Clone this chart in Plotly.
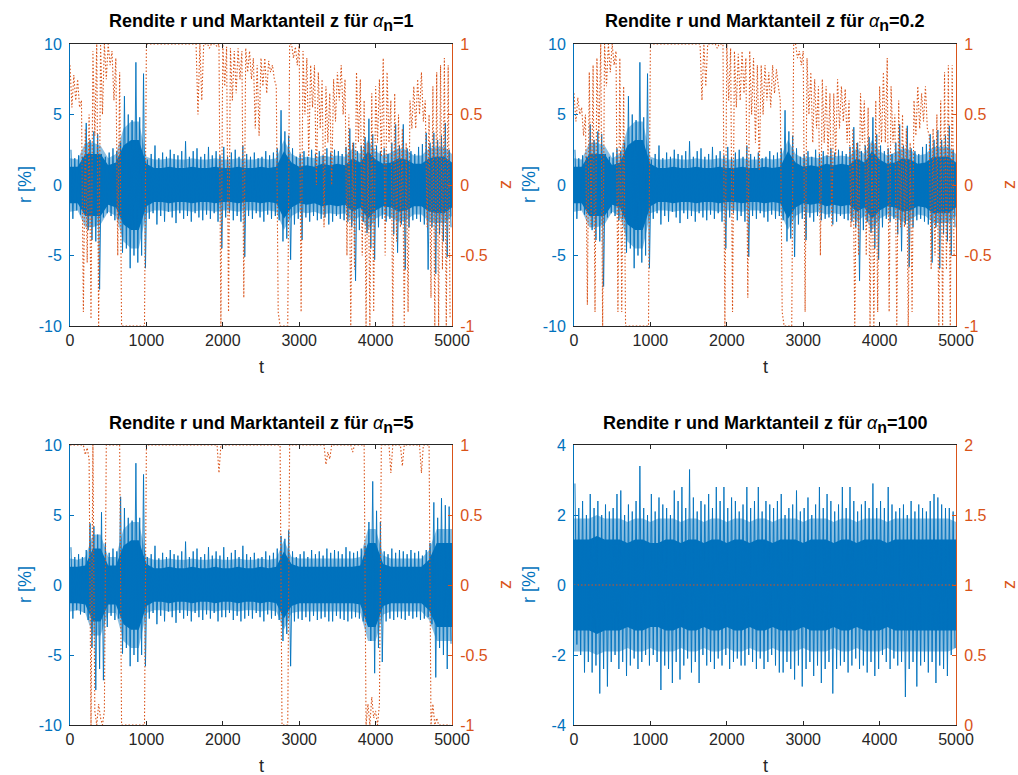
import plotly.graph_objects as go

W, H = 1018, 775
BLUE = "#0072BD"
BLUE_LIGHT = "rgba(0,114,189,0.45)"
ORANGE = "#D95319"
DARK = "#262626"
FONT = "Liberation Sans, Arial, sans-serif"

WIN = 50
CORE_STEP = 100   # t-step of the dense band half-width readings
Z_STEP = 25       # t-step of the z readings

t_ticks = [0, 1000, 2000, 3000, 4000, 5000]
t_labels = ["0", "1000", "2000", "3000", "4000", "5000"]
r_ticks_big = [-10, -5, 0, 5, 10]
r_ticks_small = [-4, -2, 0, 2, 4]
z_ticks_sym = [-1, -0.5, 0, 0.5, 1]
z_ticks_pos = [0, 0.5, 1, 1.5, 2]
titles = ["1", "0.2", "5", "100"]

# ---------------- returns r, alpha_n = 1 ----------------
r1_hi = [2.5, 1.9, 2.1, 2.0, 4.4, 3.2, 3.8, 3.6, 2.2, 2.0,
         2.3, 2.6, 2.4, 3.0, 6.3, 5.0, 4.6, 8.7, 4.8, 7.9,
         1.8, 2.2, 2.8, 1.9, 2.3, 2.0, 2.5, 2.2, 2.1, 2.4,
         3.1, 2.0, 2.4, 2.6, 2.0, 2.2, 2.7, 2.1, 2.4, 2.1,
         2.7, 2.0, 2.3, 2.5, 2.0, 2.8, 2.2, 2.0, 2.3, 1.9,
         2.0, 2.4, 2.1, 2.3, 2.6, 5.3, 3.8, 3.5, 2.6, 2.0,
         2.2, 2.4, 2.0, 2.5, 2.2, 2.4, 2.1, 2.6, 2.3, 2.5,
         2.4, 2.2, 2.7, 4.0, 3.0, 2.4, 2.8, 3.4, 4.7, 3.6,
         2.8, 2.4, 2.6, 2.2, 3.0, 4.3, 2.8, 4.3, 2.6, 2.4,
         2.2, 2.7, 2.9, 3.7, 3.0, 3.7, 3.2, 3.5, 4.4, 2.5]
r1_lo = [-2.4, -1.8, -2.1, -2.0, -3.2, -3.9, -4.0, -7.4, -2.3, -2.0,
         -2.2, -2.5, -2.4, -4.8, -4.5, -5.9, -5.0, -5.5, -5.0, -5.9,
         -2.4, -2.0, -2.8, -2.2, -2.6, -1.9, -2.3, -2.7, -2.0, -2.4,
         -2.2, -2.6, -2.0, -2.3, -2.5, -2.1, -2.4, -2.0, -2.6, -4.5,
         -2.3, -2.0, -2.5, -2.2, -2.6, -5.1, -2.2, -2.4, -2.0, -2.3,
         -2.6, -2.1, -2.4, -2.2, -2.5, -4.0, -3.8, -5.3, -2.8, -2.4,
         -3.9, -2.3, -2.6, -2.2, -2.5, -2.4, -2.3, -2.8, -2.6, -2.2,
         -2.4, -2.5, -2.6, -3.0, -6.8, -3.2, -2.6, -3.4, -4.5, -5.3,
         -3.0, -2.4, -2.6, -2.4, -3.5, -4.8, -2.8, -6.0, -3.0, -2.5,
         -2.4, -2.6, -2.8, -6.0, -3.0, -6.3, -3.5, -4.0, -5.1, -3.0]
r1_core = [1.3, 1.3, 2.2, 2.2, 2.2, 1.4, 1.6, 2.8, 3.2, 3.2,
           1.5, 1.2, 1.2, 1.3, 1.2, 1.2, 1.3, 1.2, 1.2, 1.3,
           1.2, 1.2, 1.3, 1.2, 1.2, 1.3, 1.2, 1.3, 2.4, 1.6,
           1.3, 1.4, 1.3, 1.5, 1.4, 1.5, 1.4, 1.9, 1.6, 2.4,
           1.8, 1.5, 1.6, 1.9, 1.8, 1.5, 1.5, 1.9, 2.0, 2.0, 1.6]
r1_fringe = [1.9, 1.8, 3.0, 3.0, 2.8, 1.9, 2.2, 4.0, 4.5, 4.5,
             2.0, 1.8, 1.8, 1.9, 1.8, 1.8, 1.9, 1.8, 1.8, 1.9,
             1.8, 1.8, 1.9, 1.8, 1.8, 1.9, 1.8, 1.9, 3.2, 2.2,
             1.9, 2.0, 1.9, 2.1, 2.0, 2.1, 2.0, 2.6, 2.2, 3.2,
             2.4, 2.1, 2.3, 2.6, 2.5, 2.1, 2.1, 2.6, 2.7, 2.7, 2.2]

# ---------------- returns r, alpha_n = 0.2 ----------------
r02_hi = [2.5, 1.9, 2.1, 2.0, 4.3, 3.2, 3.8, 3.6, 2.2, 2.0,
          2.3, 2.6, 2.4, 3.0, 6.3, 5.0, 4.6, 8.7, 4.8, 7.9,
          1.8, 2.2, 2.8, 1.9, 2.3, 2.0, 2.5, 2.2, 2.1, 2.4,
          3.1, 2.0, 2.4, 2.6, 2.0, 2.2, 2.7, 2.1, 2.4, 2.1,
          2.7, 2.0, 2.3, 2.5, 2.0, 2.8, 2.2, 2.0, 2.3, 1.9,
          2.0, 2.4, 2.1, 2.3, 2.6, 5.3, 3.8, 3.5, 2.6, 2.0,
          2.2, 2.4, 2.0, 2.5, 2.2, 2.4, 2.1, 2.6, 2.3, 2.5,
          2.4, 2.2, 2.7, 4.1, 3.0, 2.4, 2.8, 3.4, 4.8, 3.6,
          2.8, 2.4, 2.6, 2.2, 3.0, 4.3, 2.8, 4.2, 2.6, 2.4,
          2.2, 2.7, 2.9, 3.6, 3.2, 3.9, 3.2, 3.5, 4.2, 2.5]
r02_lo = [-2.4, -1.8, -2.1, -2.0, -3.2, -3.9, -4.0, -7.2, -2.3, -2.0,
          -2.2, -2.5, -2.4, -4.8, -4.5, -5.9, -5.0, -5.5, -5.0, -5.9,
          -2.4, -2.0, -2.8, -2.2, -2.6, -1.9, -2.3, -2.7, -2.0, -2.4,
          -2.2, -2.6, -2.0, -2.3, -2.5, -2.1, -2.4, -2.0, -2.6, -4.5,
          -2.3, -2.0, -2.5, -2.2, -2.6, -5.1, -2.2, -2.4, -2.0, -2.3,
          -2.6, -2.1, -2.4, -2.2, -2.5, -4.0, -3.8, -5.1, -2.8, -2.4,
          -3.9, -2.3, -2.6, -2.2, -2.5, -2.4, -2.3, -2.8, -2.6, -2.2,
          -2.4, -2.5, -2.6, -3.0, -6.8, -3.2, -2.6, -3.4, -4.5, -5.3,
          -3.0, -2.4, -2.6, -2.4, -3.5, -4.7, -2.8, -5.8, -3.0, -2.5,
          -2.4, -2.6, -2.8, -5.5, -3.0, -5.9, -3.5, -4.0, -5.0, -3.0]
r02_core = [1.3, 1.3, 2.2, 2.2, 2.2, 1.4, 1.6, 2.8, 3.2, 3.2,
            1.5, 1.2, 1.2, 1.3, 1.2, 1.2, 1.3, 1.2, 1.2, 1.3,
            1.2, 1.2, 1.3, 1.2, 1.2, 1.3, 1.2, 1.3, 2.4, 1.6,
            1.3, 1.4, 1.3, 1.5, 1.4, 1.5, 1.4, 1.9, 1.6, 2.4,
            1.8, 1.5, 1.6, 1.9, 1.8, 1.5, 1.6, 2.0, 2.0, 2.0, 1.6]
r02_fringe = [1.9, 1.8, 3.0, 3.0, 2.8, 1.9, 2.2, 4.0, 4.5, 4.5,
              2.0, 1.8, 1.8, 1.9, 1.8, 1.8, 1.9, 1.8, 1.8, 1.9,
              1.8, 1.8, 1.9, 1.8, 1.8, 1.9, 1.8, 1.9, 3.2, 2.2,
              1.9, 2.0, 1.9, 2.1, 2.0, 2.1, 2.0, 2.6, 2.2, 3.2,
              2.4, 2.1, 2.3, 2.6, 2.5, 2.1, 2.2, 2.7, 2.7, 2.7, 2.2]

# ---------------- returns r, alpha_n = 5 ----------------
r5_hi = [2.7, 2.0, 2.2, 2.0, 2.5, 4.4, 4.2, 3.6, 5.2, 3.0,
         2.3, 2.6, 2.4, 6.3, 5.5, 4.8, 4.6, 8.7, 4.8, 7.9,
         2.0, 2.2, 2.8, 1.9, 2.3, 2.0, 2.5, 2.2, 2.1, 2.4,
         3.1, 2.0, 2.4, 2.6, 2.0, 2.2, 2.7, 2.1, 2.4, 2.1,
         2.7, 2.0, 2.3, 2.5, 2.0, 2.8, 2.2, 2.0, 2.3, 1.9,
         2.0, 2.4, 2.1, 2.3, 2.6, 3.5, 3.3, 3.9, 2.4, 2.0,
         2.2, 2.4, 2.0, 2.5, 2.2, 2.4, 2.1, 2.6, 2.3, 2.5,
         2.4, 2.2, 2.7, 2.4, 2.3, 2.4, 2.6, 2.8, 4.5, 7.4,
         5.3, 4.5, 2.4, 2.2, 2.6, 2.3, 2.5, 2.4, 2.2, 2.5,
         2.3, 2.4, 2.1, 2.5, 3.0, 5.9, 4.8, 6.2, 5.7, 5.6]
r5_lo = [-2.4, -1.8, -2.1, -2.0, -2.5, -4.5, -7.5, -6.0, -6.8, -3.0,
         -2.2, -2.5, -2.4, -4.9, -4.5, -5.8, -5.0, -5.5, -5.0, -5.8,
         -2.4, -2.0, -2.8, -2.2, -2.6, -1.9, -2.3, -2.7, -2.0, -2.4,
         -2.2, -2.6, -2.0, -2.3, -2.5, -2.1, -2.4, -2.0, -2.6, -2.3,
         -2.3, -2.0, -2.5, -2.2, -2.6, -2.4, -2.2, -2.4, -2.0, -2.3,
         -2.6, -2.1, -2.4, -2.2, -2.5, -4.0, -3.5, -5.8, -2.6, -2.4,
         -2.5, -2.3, -2.6, -2.2, -2.5, -2.4, -2.3, -2.6, -2.6, -2.2,
         -2.4, -2.5, -2.6, -2.4, -2.3, -2.4, -2.6, -2.5, -4.0, -6.3,
         -4.5, -5.5, -2.6, -2.4, -2.5, -2.3, -2.4, -2.5, -2.2, -2.4,
         -2.3, -2.5, -2.4, -2.3, -2.8, -6.6, -4.5, -5.0, -6.0, -4.2]
r5_core = [1.3, 1.3, 1.4, 2.6, 2.6, 1.4, 1.4, 2.8, 3.2, 3.2,
           1.5, 1.2, 1.2, 1.3, 1.2, 1.2, 1.3, 1.2, 1.2, 1.3,
           1.2, 1.2, 1.3, 1.2, 1.2, 1.3, 1.2, 1.3, 2.4, 1.5,
           1.3, 1.3, 1.3, 1.3, 1.3, 1.3, 1.3, 1.3, 1.4, 3.0,
           3.0, 1.5, 1.3, 1.3, 1.3, 1.3, 1.3, 1.8, 3.0, 3.0, 3.0]
r5_fringe = [1.9, 1.8, 2.0, 3.6, 3.6, 2.0, 2.0, 4.0, 4.5, 4.5,
             2.0, 1.8, 1.8, 1.9, 1.8, 1.8, 1.9, 1.8, 1.8, 1.9,
             1.8, 1.8, 1.9, 1.8, 1.8, 1.9, 1.8, 1.9, 3.2, 2.0,
             1.9, 1.9, 1.9, 1.9, 1.9, 1.9, 1.9, 1.9, 2.0, 4.0,
             4.0, 2.1, 1.9, 1.9, 1.9, 1.9, 1.9, 2.5, 4.0, 4.0, 4.0]

# ---------------- returns r, alpha_n = 100 ----------------
r100_hi = [2.9, 2.2, 2.4, 2.0, 2.6, 2.2, 2.4, 2.0, 2.3, 2.1,
           2.2, 2.6, 2.7, 2.0, 2.3, 2.1, 2.4, 3.4, 2.2, 2.0,
           2.6, 2.1, 2.5, 2.3, 2.2, 2.0, 2.7, 2.4, 2.8, 2.2,
           3.3, 2.5, 2.1, 2.4, 2.3, 2.6, 2.2, 2.8, 2.4, 2.8,
           2.2, 2.5, 2.4, 2.1, 2.3, 2.8, 2.2, 2.4, 2.8, 2.1,
           2.4, 2.3, 2.2, 2.4, 2.6, 2.0, 2.2, 2.3, 2.7, 2.1,
           2.2, 2.5, 2.0, 2.3, 2.8, 2.2, 2.6, 2.4, 2.1, 2.3,
           2.8, 2.2, 2.8, 2.4, 2.1, 2.3, 2.4, 2.2, 2.9, 2.2,
           2.4, 2.2, 2.8, 2.3, 2.1, 2.2, 2.3, 2.0, 2.4, 2.1,
           2.3, 2.2, 2.1, 2.4, 2.6, 2.5, 2.3, 2.2, 2.2, 2.1]
r100_lo = [-1.7, -2.0, -2.5, -2.2, -2.5, -2.3, -3.1, -2.4, -2.9, -2.2,
           -2.0, -2.4, -2.2, -2.6, -2.3, -2.1, -2.4, -2.2, -2.0, -2.3,
           -2.0, -2.2, -3.0, -2.3, -2.4, -2.8, -2.2, -2.7, -2.3, -2.1,
           -2.5, -2.2, -2.8, -2.0, -2.3, -2.2, -2.4, -2.1, -2.3, -2.0,
           -2.4, -2.2, -2.1, -2.3, -2.3, -2.0, -2.2, -2.4, -2.1, -2.4,
           -2.2, -2.0, -2.3, -2.5, -2.5, -2.2, -2.4, -2.7, -2.3, -2.9,
           -2.4, -2.2, -2.6, -2.3, -2.8, -2.4, -2.2, -3.1, -2.4, -2.3,
           -2.2, -2.5, -2.3, -2.1, -2.4, -2.3, -2.5, -2.2, -2.6, -2.4,
           -2.0, -2.2, -2.4, -2.1, -2.3, -2.2, -3.2, -2.4, -2.2, -2.9,
           -2.3, -2.2, -2.5, -2.2, -2.8, -2.3, -2.4, -2.6, -2.0, -1.8]
r100_core = [1.3, 1.3, 1.3, 1.4, 1.3, 1.3, 1.3, 1.2, 1.3, 1.3,
             1.2, 1.2, 1.3, 1.3, 1.2, 1.3, 1.3, 1.2, 1.3, 1.3,
             1.2, 1.3, 1.3, 1.2, 1.3, 1.3, 1.2, 1.3, 1.3, 1.3,
             1.2, 1.3, 1.3, 1.3, 1.2, 1.3, 1.3, 1.2, 1.3, 1.3,
             1.3, 1.2, 1.3, 1.3, 1.3, 1.3, 1.3, 1.3, 1.3, 1.3, 1.3]
r100_fringe = [1.9, 1.9, 1.9, 2.0, 1.9, 1.9, 1.9, 1.8, 1.9, 1.9,
               1.8, 1.9, 1.9, 1.9, 1.8, 1.9, 1.9, 1.8, 1.9, 1.9,
               1.8, 1.9, 1.9, 1.8, 1.9, 1.9, 1.8, 1.9, 1.9, 1.9,
               1.8, 1.9, 1.9, 1.9, 1.8, 1.9, 1.9, 1.8, 1.9, 1.9,
               1.9, 1.8, 1.9, 1.9, 1.9, 1.9, 1.9, 1.9, 1.9, 1.9, 1.8]

# ---------------- market share z (values every 25 t) ----------------
z1 = [0.85, 0.55, 0.78, 0.6, 0.75, 0.55, 0.6, -0.9, 0.4, -0.55,
      0.5, -0.95, 0.95, 0.35, 1.0, -1.0, 1.0, 0.5, 1.0, 0.75,
      1.0, 0.85, 0.95, 0.6, 0.9, -0.5, 0.8, -1.0, -1.0, -1.0,
      -1.0, -1.0, -1.0, -1.0, -1.0, -1.0, -1.0, -1.0, -1.0, -1.0,
      1.0, 1.0, 1.0, 1.0, 1.0, 1.0, 1.0, 1.0, 1.0, 1.0,
      1.0, 1.0, 1.0, 1.0, 1.0, 1.0, 1.0, 1.0, 1.0, 1.0,
      1.0, 1.0, 1.0, 1.0, 1.0, 1.0, 1.0, 0.5, 1.0, 0.6,
      1.0, 1.0, 1.0, 0.97, 1.0, 1.0, 1.0, 0.98, 1.0, -1.0,
      1.0, 0.7, 0.98, -0.9, 0.97, 0.6, 0.95, 0.65, 0.97, 0.75,
      0.95, -0.8, 0.97, 0.8, 0.95, 0.75, 0.9, 0.4, 0.85, 0.35,
      0.9, 0.7, 0.9, 0.65, 0.88, 0.8, 0.85, 0.75, 0.7, -0.9,
      -1.0, -1.0, -1.0, -1.0, -1.0, 1.0, 1.0, 0.9, 0.98, 0.85,
      1.0, -0.9, 0.95, 0.5, 0.9, 0.2, 0.85, 0.55, 0.85, 0.0,
      0.8, 0.4, 0.75, -0.3, 0.7, 0.3, 0.65, 0.0, 0.75, 0.45,
      0.8, 0.6, 0.85, 0.5, 0.75, -0.5, 0.5, -1.0, 0.3, -0.6,
      0.8, 0.3, 0.75, -0.5, 0.6, -1.0, 0.3, -1.0, 0.65, -0.9,
      0.7, 0.3, 0.75, 0.2, 0.9, -0.5, 0.8, 0.3, 0.6, -1.0,
      0.65, -0.4, 0.5, -0.3, 0.4, -1.0, 0.3, -0.9, 0.6, 0.4,
      0.7, 0.4, 0.75, 0.5, 0.8, 0.45, 0.6, -0.3, 0.5, -0.8,
      0.7, -1.0, 0.8, -1.0, 0.85, -0.6, 0.9, -1.0, 0.85, -0.95]
z02 = [0.65, 0.45, 0.62, 0.5, 0.55, 0.35, 0.5, -0.85, 0.8, -0.3,
       0.85, -0.9, 0.9, 0.3, 1.0, -1.0, 1.0, 0.7, 1.0, 0.8,
       1.0, 0.85, 0.95, -0.9, 0.9, -0.9, 0.7, -1.0, -1.0, -1.0,
       -1.0, -1.0, -1.0, -1.0, -1.0, -1.0, -1.0, -1.0, -1.0, -1.0,
       1.0, 1.0, 1.0, 1.0, 1.0, 1.0, 1.0, 1.0, 1.0, 1.0,
       1.0, 1.0, 1.0, 1.0, 1.0, 1.0, 1.0, 1.0, 1.0, 1.0,
       1.0, 1.0, 1.0, 1.0, 1.0, 1.0, 1.0, 0.6, 1.0, 0.7,
       1.0, 1.0, 1.0, 1.0, 1.0, 0.97, 1.0, 1.0, 1.0, -1.0,
       1.0, 0.6, 0.97, -0.9, 0.95, 0.55, 0.93, 0.6, 0.95, 0.65,
       0.9, -0.8, 0.95, 0.5, 0.9, 0.3, 0.85, 0.1, 0.85, 0.5,
       0.85, 0.6, 0.8, 0.55, 0.85, 0.65, 0.82, 0.7, 0.6, -0.9,
       -1.0, -1.0, -1.0, -1.0, -1.0, 1.0, 1.0, 0.9, 0.95, 0.85,
       0.95, -0.9, 0.9, 0.5, 0.8, 0.3, 0.75, 0.4, 0.7, -0.5,
       0.75, 0.3, 0.7, 0.2, 0.65, -0.3, 0.65, 0.2, 0.75, 0.4,
       0.7, 0.45, 0.68, 0.3, 0.6, -0.3, 0.4, -1.0, 0.3, -0.5,
       0.65, 0.3, 0.6, -0.5, 0.55, -1.0, 0.3, -1.0, 0.6, -0.9,
       0.7, 0.3, 0.8, 0.3, 0.9, -0.9, 0.7, 0.3, 0.5, -1.0,
       0.6, -0.3, 0.5, -0.3, 0.4, -1.0, 0.3, -0.9, 0.6, 0.35,
       0.7, 0.4, 0.65, 0.45, 0.7, 0.4, 0.35, -0.6, 0.4, -0.5,
       0.5, -1.0, 0.6, -1.0, 0.8, -0.6, 0.85, -1.0, 0.85, -0.5]
z5 = [1.0, 1.0, 1.0, 1.0, 1.0, 1.0, 1.0, 1.0, 0.93, 0.98,
      0.9, -1.0, 1.0, -0.9, -1.0, -0.85, -0.95, -1.0, -0.9, 1.0,
      1.0, 1.0, 1.0, 1.0, 1.0, 1.0, 1.0, -1.0, -1.0, -1.0,
      -1.0, -1.0, -1.0, -1.0, -1.0, -1.0, -1.0, -1.0, -1.0, -1.0,
      1.0, 1.0, 1.0, 1.0, 1.0, 1.0, 1.0, 1.0, 1.0, 1.0,
      1.0, 1.0, 1.0, 1.0, 1.0, 1.0, 1.0, 1.0, 1.0, 1.0,
      1.0, 1.0, 1.0, 1.0, 1.0, 1.0, 1.0, 1.0, 1.0, 1.0,
      1.0, 1.0, 1.0, 1.0, 1.0, 1.0, 1.0, 1.0, 0.8, 1.0,
      1.0, 1.0, 1.0, 1.0, 1.0, 1.0, 1.0, 1.0, 1.0, 1.0,
      1.0, 1.0, 1.0, 1.0, 1.0, 1.0, 1.0, 1.0, 1.0, 1.0,
      1.0, 1.0, 1.0, 1.0, 1.0, 1.0, 1.0, 1.0, 1.0, 1.0,
      1.0, -1.0, -1.0, -1.0, -1.0, 1.0, 1.0, 1.0, 1.0, 1.0,
      1.0, 1.0, 1.0, 1.0, 1.0, 1.0, 1.0, 1.0, 1.0, 1.0,
      1.0, 1.0, 1.0, 1.0, 0.86, 0.95, 0.9, 1.0, 1.0, 1.0,
      1.0, 1.0, 1.0, 1.0, 1.0, 1.0, 1.0, 1.0, 0.95, 1.0,
      1.0, 1.0, 1.0, 1.0, 1.0, -1.0, -0.85, -1.0, -0.8, -0.95,
      -0.9, -1.0, -0.85, 1.0, 1.0, 1.0, 1.0, 1.0, 0.8, 1.0,
      1.0, 1.0, 1.0, 1.0, 0.85, 1.0, 1.0, 1.0, 1.0, 1.0,
      1.0, 1.0, 1.0, 1.0, 0.8, 1.0, 1.0, 1.0, 1.0, -1.0,
      -0.85, -1.0, -0.95, -1.0, -1.0, -1.0, -1.0, -1.0, -1.0, -1.0]
z100_t = [0, 5000]
z100 = [1.0, 1.0]

fig = go.Figure()


def zigzag(hi, lo):
    ts, vs = [], []
    for i, (h, l) in enumerate(zip(hi, lo)):
        ts += [i * WIN + WIN * 0.25, i * WIN + WIN * 0.75]
        vs += [h, l]
    return ts, vs


def band(half):
    tc = [i * CORE_STEP for i in range(len(half))]
    return tc + tc[::-1], half + [-c for c in half[::-1]]


panels = [
    (r1_hi, r1_lo, r1_core, r1_fringe, [i * Z_STEP for i in range(len(z1))], z1),
    (r02_hi, r02_lo, r02_core, r02_fringe, [i * Z_STEP for i in range(len(z02))], z02),
    (r5_hi, r5_lo, r5_core, r5_fringe, [i * Z_STEP for i in range(len(z5))], z5),
    (r100_hi, r100_lo, r100_core, r100_fringe, z100_t, z100),
]

for k, (hi, lo, core, fringe, zt, zv) in enumerate(panels, start=1):
    xa = "x" if k == 1 else f"x{k}"
    yl = "y" if k == 1 else f"y{2 * k - 1}"
    yr = f"y{2 * k}"
    bx, by = band(fringe)
    fig.add_trace(go.Scatter(
        x=bx, y=by, fill="toself", fillcolor=BLUE_LIGHT, mode="lines",
        line=dict(width=0, color=BLUE), xaxis=xa, yaxis=yl, hoverinfo="skip", showlegend=False))
    bx, by = band(core)
    fig.add_trace(go.Scatter(
        x=bx, y=by, fill="toself", fillcolor=BLUE, mode="lines",
        line=dict(width=0, color=BLUE), xaxis=xa, yaxis=yl, hoverinfo="skip", showlegend=False))
    ts, vs = zigzag(hi, lo)
    fig.add_trace(go.Scatter(
        x=ts, y=vs, mode="lines", line=dict(color=BLUE, width=0.9),
        xaxis=xa, yaxis=yl, hoverinfo="skip", showlegend=False))
    fig.add_trace(go.Scatter(
        x=zt, y=zv, mode="lines", line=dict(color=ORANGE, width=1.1, dash="1.5px,2px"),
        xaxis=xa, yaxis=yr, hoverinfo="skip", showlegend=False))

# ---------------- layout ----------------
px_x = [(70, 452), (574, 956), (70, 452), (574, 956)]
px_y = [(44, 326), (44, 326), (445, 725), (445, 725)]


def fx(p):
    return p / W


def fy(p):
    return 1 - p / H


layout = dict(
    template="none",
    width=W, height=H, margin=dict(l=0, r=0, t=0, b=0, autoexpand=False),
    paper_bgcolor="white", plot_bgcolor="white",
    font=dict(family=FONT, size=16, color=DARK),
    showlegend=False,
)

annotations = []
for k in range(1, 5):
    x0, x1 = px_x[k - 1]
    y0, y1 = px_y[k - 1]
    xname = "xaxis" if k == 1 else f"xaxis{k}"
    ylname = "yaxis" if k == 1 else f"yaxis{2 * k - 1}"
    yrname = f"yaxis{2 * k}"
    yl_ref = "y" if k == 1 else f"y{2 * k - 1}"
    x_ref = "x" if k == 1 else f"x{k}"
    big = k < 4
    rt = r_ticks_big if big else r_ticks_small
    zt = z_ticks_sym if big else z_ticks_pos
    layout[xname] = dict(
        domain=[fx(x0), fx(x1)], anchor=yl_ref, range=[0, 5000], automargin=False,
        tickvals=t_ticks, ticktext=t_labels, ticks="inside", ticklen=4,
        tickcolor=DARK, showline=True, linecolor=DARK, linewidth=1, mirror="ticks",
        showgrid=False, zeroline=False, tickfont=dict(size=16, color=DARK),
    )
    layout[ylname] = dict(
        domain=[fy(y1), fy(y0)], anchor=x_ref, range=[rt[0], rt[-1]], automargin=False,
        tickvals=rt, ticktext=[str(v) for v in rt], ticks="inside", ticklen=4,
        tickcolor=BLUE, showline=True, linecolor=BLUE, linewidth=1,
        showgrid=False, zeroline=False, tickfont=dict(size=16, color=BLUE),
        ticklabelstandoff=4,
    )
    layout[yrname] = dict(
        overlaying=yl_ref, anchor=x_ref, side="right", range=[zt[0], zt[-1]], automargin=False,
        tickvals=zt, ticktext=[("%g" % v) for v in zt], ticks="inside", ticklen=4,
        tickcolor=ORANGE, showline=True, linecolor=ORANGE, linewidth=1,
        showgrid=False, zeroline=False, tickfont=dict(size=16, color=ORANGE),
        ticklabelstandoff=4,
    )
    cx = (x0 + x1) / 2
    cy = (y0 + y1) / 2
    annotations.append(dict(
        x=fx(cx), y=fy(y0 - 21), xref="paper", yref="paper", xanchor="center", yanchor="middle",
        showarrow=False, font=dict(size=18, color="black"),
        text=(f"<b>Rendite r und Marktanteil z für </b><i>α</i>"
              f"<sub><b><span style='font-size:16px'>n</span></b></sub><b>={titles[k - 1]}</b>")))
    annotations.append(dict(
        x=fx(cx), y=fy(y1 + 41), xref="paper", yref="paper", xanchor="center", yanchor="middle",
        showarrow=False, font=dict(size=18, color=DARK), text="t"))
    annotations.append(dict(
        x=fx(x0 - 45), y=fy(cy), xref="paper", yref="paper", xanchor="center", yanchor="middle",
        showarrow=False, textangle=-90, font=dict(size=18, color=BLUE), text="r [%]"))
    annotations.append(dict(
        x=fx(x1 + 53), y=fy(cy), xref="paper", yref="paper", xanchor="center", yanchor="middle",
        showarrow=False, textangle=-90, font=dict(size=18, color=ORANGE), text="z"))

layout["annotations"] = annotations
fig.update_layout(**layout)
fig.write_html("out.html")
